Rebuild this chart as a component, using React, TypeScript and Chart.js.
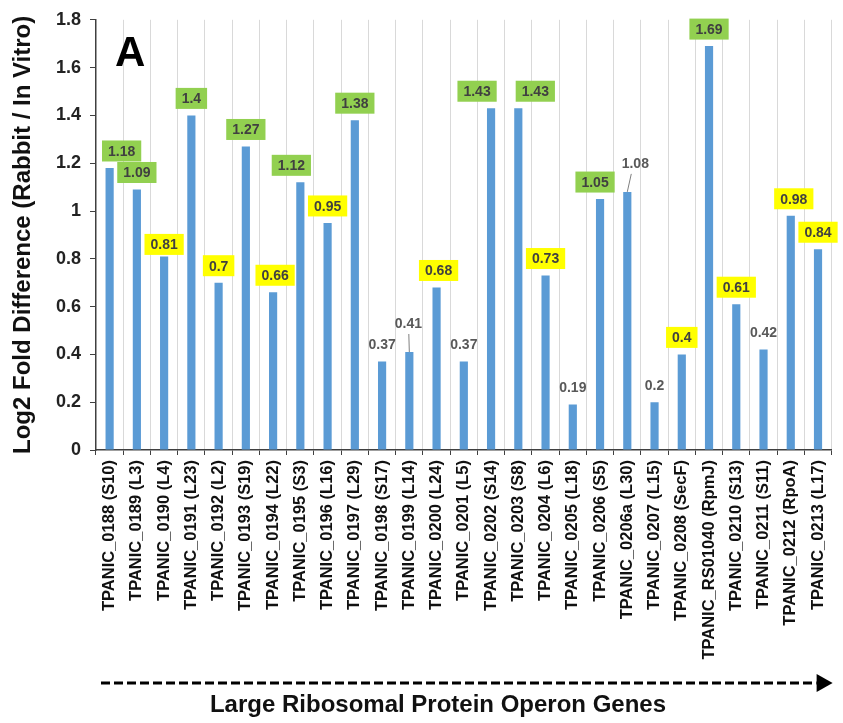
import React, { useEffect, useRef } from "react";
import { Chart, registerables } from "chart.js";

Chart.register(...registerables);

const FONT = '"Liberation Sans", Arial, Helvetica, sans-serif';

const genes = [
  "TPANIC_0188 (S10)",
  "TPANIC_0189 (L3)",
  "TPANIC_0190 (L4)",
  "TPANIC_0191 (L23)",
  "TPANIC_0192 (L2)",
  "TPANIC_0193 (S19)",
  "TPANIC_0194 (L22)",
  "TPANIC_0195 (S3)",
  "TPANIC_0196 (L16)",
  "TPANIC_0197 (L29)",
  "TPANIC_0198 (S17)",
  "TPANIC_0199 (L14)",
  "TPANIC_0200 (L24)",
  "TPANIC_0201 (L5)",
  "TPANIC_0202 (S14)",
  "TPANIC_0203 (S8)",
  "TPANIC_0204 (L6)",
  "TPANIC_0205 (L18)",
  "TPANIC_0206 (S5)",
  "TPANIC_0206a (L30)",
  "TPANIC_0207 (L15)",
  "TPANIC_0208 (SecF)",
  "TPANIC_RS01040 (RpmJ)",
  "TPANIC_0210 (S13)",
  "TPANIC_0211 (S11)",
  "TPANIC_0212 (RpoA)",
  "TPANIC_0213 (L17)",
];

const log2Fold = [
  1.18, 1.09, 0.81, 1.4, 0.7, 1.27, 0.66, 1.12, 0.95, 1.38, 0.37, 0.41, 0.68,
  0.37, 1.43, 1.43, 0.73, 0.19, 1.05, 1.08, 0.2, 0.4, 1.69, 0.61, 0.42, 0.98,
  0.84,
];

// label highlight: g = green box, y = yellow box, p = plain text
const labelKinds = [
  "g", "g", "y", "g", "y", "g", "y", "g", "y", "g", "p", "p", "y",
  "p", "g", "g", "y", "p", "g", "p", "p", "y", "g", "y", "p", "y",
  "y",
];

const yTicks = [0, 0.2, 0.4, 0.6, 0.8, 1, 1.2, 1.4, 1.6, 1.8];

const yTitle = "Log2 Fold Difference (Rabbit / In Vitro)";
const xTitle = "Large Ribosomal Protein Operon Genes";
const panelLetter = "A";

// presentation-only nudges for the value labels (index -> [dx, dy])
const labelNudge: Record<number, [number, number]> = {
  0: [12, 0],
  2: [0, 5],
  6: [2, 0],
  7: [-9, 0],
  11: [-1, -12],
  12: [2, 0],
  14: [-14, 0],
  15: [17, 0],
  18: [-5, 0],
  19: [8, -12],
  25: [3, 0],
};
const leaderIdx = [11, 19];

const valueLabelPlugin = {
  id: "valueLabels",
  afterDatasetsDraw(chart: any) {
    const ctx = chart.ctx as CanvasRenderingContext2D;
    const meta = chart.getDatasetMeta(0);
    meta.data.forEach((el: any, i: number) => {
      const { x, y } = el.getProps(["x", "y"], true);
      const [dx, dy] = labelNudge[i] || [0, 0];
      const cx = x + dx;
      const cy = y - 17 + dy;
      const text = String(log2Fold[i]);
      const kind = labelKinds[i];
      ctx.save();
      ctx.font = `bold 14px ${FONT}`;
      ctx.textAlign = "center";
      ctx.textBaseline = "middle";
      if (kind !== "p") {
        const w = ctx.measureText(text).width + 12;
        const h = 21;
        ctx.fillStyle = kind === "g" ? "#92D050" : "#FFFF00";
        ctx.fillRect(cx - w / 2, cy - h / 2, w, h);
        ctx.fillStyle = "#404040";
      } else {
        ctx.fillStyle = "#595959";
      }
      ctx.fillText(text, cx, cy + 1);
      if (leaderIdx.includes(i)) {
        ctx.strokeStyle = "#7f7f7f";
        ctx.lineWidth = 1;
        ctx.beginPath();
        ctx.moveTo(cx - dx * 0.5, cy + 11);
        ctx.lineTo(x, y);
        ctx.stroke();
      }
      ctx.restore();
    });
  },
};

const decorPlugin = {
  id: "decor",
  afterDraw(chart: any) {
    const ctx = chart.ctx as CanvasRenderingContext2D;
    const area = chart.chartArea;
    ctx.save();
    // panel letter
    ctx.fillStyle = "#000";
    ctx.font = `bold 42px ${FONT}`;
    ctx.textAlign = "left";
    ctx.textBaseline = "alphabetic";
    ctx.fillText(panelLetter, area.left + 19, area.top + 46);

    // dashed arrow
    const ay = 683;
    const x0 = area.left + 5;
    const x1 = area.right - 15;
    ctx.strokeStyle = "#000";
    ctx.lineWidth = 3;
    ctx.setLineDash([9, 4]);
    ctx.beginPath();
    ctx.moveTo(x0, ay);
    ctx.lineTo(x1, ay);
    ctx.stroke();
    ctx.setLineDash([]);
    ctx.fillStyle = "#000";
    ctx.beginPath();
    ctx.moveTo(x1, ay - 9);
    ctx.lineTo(area.right + 1, ay);
    ctx.lineTo(x1, ay + 9);
    ctx.closePath();
    ctx.fill();

    // bottom title
    ctx.font = `bold 24px ${FONT}`;
    ctx.textAlign = "center";
    ctx.textBaseline = "alphabetic";
    ctx.fillStyle = "#111";
    ctx.fillText(xTitle, 438, 712);
    ctx.restore();
  },
};

export default function App() {
  const canvasRef = useRef<HTMLCanvasElement | null>(null);

  useEffect(() => {
    const canvas = canvasRef.current;
    if (!canvas) return;
    const chart = new Chart(canvas, {
      type: "bar",
      data: {
        labels: genes,
        datasets: [
          {
            data: log2Fold,
            backgroundColor: "#5B9BD5",
            borderWidth: 0,
            barPercentage: 0.3,
            categoryPercentage: 1,
          },
        ],
      },
      options: {
        responsive: false,
        animation: false,
        devicePixelRatio: 1,
        layout: { padding: { left: 0, right: 10, top: 16, bottom: 0 } },
        plugins: {
          legend: { display: false },
          tooltip: { enabled: false },
          title: { display: false },
        },
        scales: {
          x: {
            offset: true,
            grid: {
              offset: true,
              color: "#D9D9D9",
              lineWidth: 1,
              drawOnChartArea: true,
              drawTicks: true,
              tickLength: 5,
              tickColor: "#404040",
            },
            border: { display: true, color: "#404040", width: 1.5 },
            ticks: {
              autoSkip: false,
              minRotation: 90,
              maxRotation: 90,
              padding: 5,
              color: "#111",
              font: { family: FONT, size: 16.5, weight: "bold" },
            },
            afterFit: (s: any) => {
              s.height = 273;
            },
          },
          y: {
            min: 0,
            max: 1.8,
            afterBuildTicks: (s: any) => {
              s.ticks = yTicks.map((v) => ({ value: v }));
            },
            grid: {
              drawOnChartArea: false,
              drawTicks: true,
              tickLength: 6,
              tickColor: "#404040",
            },
            border: { display: true, color: "#404040", width: 1.5 },
            ticks: {
              padding: 9,
              color: "#222",
              font: { family: FONT, size: 18, weight: "bold" },
              callback: (v: any) => String(Number(Number(v).toFixed(1))),
            },
            title: {
              display: true,
              text: yTitle,
              color: "#111",
              font: { family: FONT, size: 24, weight: "bold" },
              padding: { top: 9, bottom: 0 },
            },
            afterFit: (s: any) => {
              s.width = 96;
            },
          },
        },
      },
      plugins: [valueLabelPlugin, decorPlugin],
    });
    return () => chart.destroy();
  }, []);

  return (
    <div
      style={{
        position: "absolute",
        left: 0,
        top: 0,
        width: 843,
        height: 723,
        background: "#fff",
      }}
    >
      <canvas
        ref={canvasRef}
        width={843}
        height={723}
        style={{ display: "block", width: 843, height: 723 }}
      />
    </div>
  );
}
